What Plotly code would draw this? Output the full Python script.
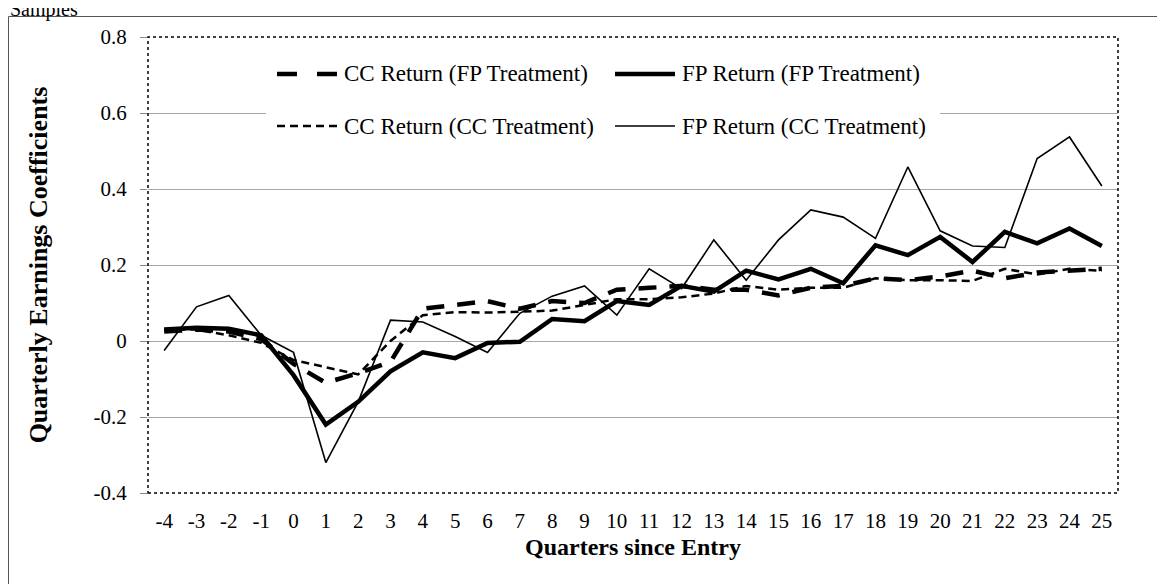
import plotly.graph_objects as go

# quarters relative to entry
quarters = list(range(-4, 26))

cc_return_fp = [0.025, 0.03, 0.025, 0.005, -0.06, -0.11, -0.085, -0.055, 0.085, 0.095,
                0.105, 0.085, 0.105, 0.10, 0.135, 0.14, 0.145, 0.135, 0.135, 0.12,
                0.14, 0.145, 0.165, 0.16, 0.17, 0.185, 0.165, 0.18, 0.185, 0.19]
fp_return_fp = [0.03, 0.035, 0.032, 0.015, -0.09, -0.22, -0.16, -0.08, -0.03, -0.045,
                -0.005, -0.002, 0.058, 0.052, 0.105, 0.095, 0.145, 0.13, 0.185, 0.162,
                0.19, 0.152, 0.252, 0.226, 0.274, 0.208, 0.287, 0.257, 0.296, 0.25]
cc_return_cc = [0.03, 0.03, 0.015, -0.005, -0.05, -0.07, -0.088, 0.0, 0.068, 0.076,
                0.075, 0.077, 0.08, 0.095, 0.11, 0.11, 0.115, 0.125, 0.145, 0.135,
                0.14, 0.14, 0.165, 0.16, 0.16, 0.158, 0.19, 0.175, 0.19, 0.185]
fp_return_cc = [-0.025, 0.09, 0.12, 0.015, -0.03, -0.32, -0.16, 0.055, 0.05, 0.012,
                -0.03, 0.073, 0.118, 0.145, 0.068, 0.19, 0.138, 0.266, 0.16, 0.266,
                0.345, 0.326, 0.27, 0.458, 0.29, 0.25, 0.246, 0.48, 0.537, 0.408]

y_ticks = [-0.4, -0.2, 0, 0.2, 0.4, 0.6, 0.8]
y_labels = ["-0.4", "-0.2", "0", "0.2", "0.4", "0.6", "0.8"]

series = [
    ("CC Return (FP Treatment)", cc_return_fp, 4.5, "18px,13px"),
    ("FP Return (FP Treatment)", fp_return_fp, 4.5, "solid"),
    ("CC Return (CC Treatment)", cc_return_cc, 2.5, "8px,5px"),
    ("FP Return (CC Treatment)", fp_return_cc, 1.6, "solid"),
]

# page has an 8px body margin, so layout positions below are given in page pixels
OFF = 8
W, H = 1165, 584
L, R, T, B = 148 - OFF, 1118 - OFF, 37 - OFF, 493 - OFF
FONT = "Liberation Serif, Times New Roman, serif"


def px(x):
    return (x - OFF - L) / (R - L)


def py(y):
    return (B - (y - OFF)) / (B - T)


fig = go.Figure()
for name, vals, width, dash in series:
    fig.add_trace(go.Scatter(
        x=[str(q) for q in quarters], y=vals, name=name, mode="lines",
        line=dict(color="black", width=width, dash=dash),
        showlegend=False
    ))

shapes = [
    # outer frame of the figure
    dict(type="rect", xref="paper", yref="paper", x0=px(8.5), x1=px(1200), y0=py(600), y1=py(16.5),
         line=dict(color="#555555", width=1)),
    # dotted plot border
    dict(type="rect", xref="paper", yref="paper", x0=0, x1=1, y0=0, y1=1,
         line=dict(color="black", width=1.5, dash="dot"), layer="above"),
    # legend background
    dict(type="rect", xref="paper", yref="paper", x0=px(266), x1=px(940), y0=py(150), y1=py(46),
         fillcolor="white", line=dict(width=0), layer="above"),
]

annotations = []
legend_pos = [(277, 74), (615, 74), (277, 126), (615, 126)]
for (name, vals, width, dash), (lx, ly) in zip(series, legend_pos):
    sym_dash = "20px,20px" if dash == "18px,13px" else dash
    shapes.append(dict(type="line", xref="paper", yref="paper",
                       x0=px(lx), x1=px(lx + 60), y0=py(ly), y1=py(ly),
                       line=dict(color="black", width=width, dash=sym_dash), layer="above"))
    annotations.append(dict(xref="paper", yref="paper", x=px(lx + 65), y=py(ly),
                            xanchor="left", yanchor="middle", showarrow=False, text=name,
                            font=dict(family=FONT, size=23, color="black")))

annotations.append(dict(xref="paper", yref="paper", x=px(8), y=py(9), xanchor="left",
                        yanchor="middle", showarrow=False, text="Samples",
                        font=dict(family=FONT, size=20, color="black")))

fig.update_layout(
    width=W, height=H,
    margin=dict(l=L, r=W - R, t=T, b=H - B),
    paper_bgcolor="white", plot_bgcolor="white",
    font=dict(family=FONT, size=20, color="black"),
    shapes=shapes, annotations=annotations,
    xaxis=dict(
        type="category", range=[-0.5, len(quarters) - 0.5],
        showgrid=False, ticks="", ticklabelstandoff=13,
        showline=False, zeroline=False,
        tickfont=dict(family=FONT, size=21),
        title=dict(text="<b>Quarters since Entry</b>", standoff=6,
                   font=dict(family=FONT, size=24)),
    ),
    yaxis=dict(
        range=[-0.4, 0.8], tickvals=y_ticks, ticktext=y_labels,
        showgrid=True, gridcolor="#a6a6a6", gridwidth=1.2,
        zeroline=False, showline=False,
        ticks="outside", ticklen=7, tickcolor="#888888", ticklabelstandoff=9,
        tickfont=dict(family=FONT, size=21),
        title=dict(text="<b>Quarterly Earnings Coefficients</b>", standoff=38,
                   font=dict(family=FONT, size=26)),
    ),
)

fig.write_html("out.html")
